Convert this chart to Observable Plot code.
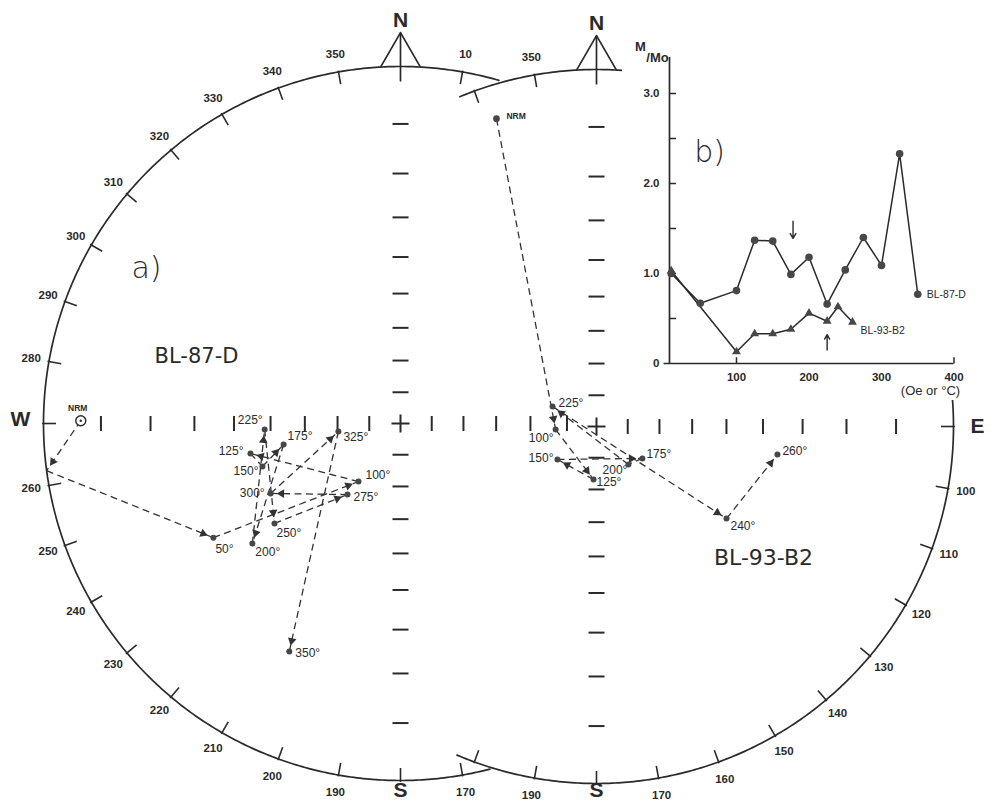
<!DOCTYPE html>
<html><head><meta charset="utf-8">
<script src="https://cdn.jsdelivr.net/npm/d3@7"></script>
<script src="https://cdn.jsdelivr.net/npm/@observablehq/plot@0.6"></script>
<style>
body{margin:0;background:#fff;}
#wrap{position:relative;width:994px;height:806px;overflow:hidden;background:#fff;}
#main{position:absolute;left:0;top:0;width:994px;height:806px;}
#inset{position:absolute;left:622px;top:30px;width:372px;height:370px;}
</style></head>
<body><div id="wrap"><div id="main"></div><div id="inset"></div></div>
<script>
// ================= DATA =================
// tick labels around the two stereonets (azimuth in degrees)
const leftTickLabels = [170,190,200,210,220,230,240,250,260,280,290,300,310,320,330,340,350,10];
const rightTickLabels = [350,100,110,120,130,140,150,160,170,190];
const leftCardinals = ["N","S","W"];
const leftCardinalAz = [0,180,270];
const rightCardinals = ["N","E","S"];
const rightCardinalAz = [0,90,180];

// a) BL-87-D demagnetization path (declination, inclination; negative = upper hemisphere)
const bl87Steps = ["NRM","","50°","100°","125°","150°","175°","200°","225°","250°","275°","300°","325°","350°"];
const bl87Dec = [270.5,262.4,238.6,215.9,258.7,252.7,259.8,231.0,267.5,231.6,216.7,241.7,262.6,206.0];
const bl87Inc = [-6.3,0,26.9,67.3,43.6,45.9,53.2,33.8,48.3,41.5,62.1,45.1,70.1,19.2];

// BL-93-B2 demagnetization path
const bl93Steps = ["NRM","100°","125°","150°","175°","200°","225°","240°","260°"];
const bl93Dec = [342.0,265.8,183.2,229.8,124.8,139.9,294.4,125.3,98.8];
const bl93Inc = [5.6,76.9,73.1,73.7,72.2,74.2,74.6,41.9,35.7];

// b) intensity decay M/Mo vs field (Oe) or temperature (°C)
const demag87 = [10,50,100,125,150,175,200,225,250,275,300,325,350];
const mMo87 = [1.0,0.67,0.81,1.37,1.36,0.99,1.18,0.66,1.04,1.40,1.09,2.33,0.77];
const demag93 = [10,100,125,150,175,200,225,240,260];
const mMo93 = [1.03,0.13,0.33,0.33,0.38,0.56,0.47,0.63,0.46];
const insetXTicks = [100,200,300,400];
const insetYTickValues = [0,1,2,3];
const insetYTickLabels = ["0","1.0","2.0","3.0"];

// ================= STYLE / LAYOUT =================
const ink = "#2a2a2a", dotFill = "#474747";
const font = "Liberation Sans, Arial, sans-serif";
const deg = Math.PI/180;
const W = 994, H = 806, R = 357;
const pxU = px => (px-400)/R, pyV = py => (423-py)/R;
const C = {left:[0,0], right:[pxU(596), pyV(426)]};

// label placement for path labels: [dx px, dy px, anchor]
const place87 = {"NRM":[-3,-12,"middle"],"50°":[2,11,"start"],"100°":[7,-6,"start"],"125°":[-7,-2,"end"],
  "150°":[-4,5,"end"],"175°":[4,-8,"start"],"200°":[3,9,"start"],"225°":[-2,-9,"end"],"250°":[2,10,"start"],
  "275°":[6,3,"start"],"300°":[-6,0,"end"],"325°":[5,6,"start"],"350°":[6,2,"start"]};
const place93 = {"NRM":[10,-2,"start"],"100°":[-2,9,"end"],"125°":[3,3,"start"],"150°":[-4,-1,"end"],
  "175°":[4,-4,"start"],"200°":[-1,6,"end"],"225°":[6,-3,"start"],"240°":[4,8,"start"],"260°":[5,-3,"start"]};

// ================= GEOMETRY HELPERS =================
function polar(c, az, r){ return {u:c[0]+r*Math.sin(az*deg), v:c[1]+r*Math.cos(az*deg)}; }
function dirToUV(c, dec, inc){ const rho = Math.tan((90-Math.abs(inc))/2*deg); return polar(c, dec, rho); }

const arcs = [];
function addArc(name, c, a0, a1){ for(let a=a0; a<=a1+1e-9; a+=0.5) arcs.push({name, ...polar(c,a,1)}); }
addArc("left", C.left, 165.5, 376);
addArc("right", C.right, 337.5, 563);

const circTicks = [];
function addTick(c,a){ const p=polar(c,a,0.965), q=polar(c,a,1.004); circTicks.push({u1:p.u,v1:p.v,u2:q.u,v2:q.v}); }
for(let a=170;a<=370;a+=10) if(a%360!==0) addTick(C.left,a);
for(let a=340;a<=560;a+=10) if(a%360!==0) addTick(C.right,a);

const LR = 375/R;
const tickText = [
  ...leftTickLabels.map(a=>({...polar(C.left,a,LR), t:String(a)})),
  ...rightTickLabels.map(a=>({...polar(C.right,a,LR), t:String(a)}))
];
const cardRadius = {N:403/R, S:366/R, W:380/R, E:381/R};
const cardText = [
  ...leftCardinals.map((t,i)=>({...polar(C.left,leftCardinalAz[i],cardRadius[t]), t})),
  ...rightCardinals.map((t,i)=>({...polar(C.right,rightCardinalAz[i],cardRadius[t]), t}))
].map(d=> d.t==="W" ? {...d, v:d.v+4/R} : d.t==="S" ? {...d, v:pyV(790)} : d);

// north symbols
const nLegs = [], nStems = [];
for(const [k,c] of Object.entries(C)){
  const apex = {u:c[0], v:c[1]+1.095};
  nLegs.push({k:k+"a",...polar(c,-3.2,1.0)}, {k:k+"a",...apex}, {k:k+"a",...polar(c,3.2,1.0)});
  nStems.push({u1:apex.u,v1:apex.v,u2:c[0],v2:c[1]+0.958});
}

// inclination graticule ticks along N-S and E-W diameters (stereographic)
const incLevels = [10,20,30,40,50,60,70,80];
const rhoOf = I => Math.tan((90-I)/2*deg);
const hd = 8/R, vd = 7.5/R, cr = 9/R;
const hDash = [], vDash = [];
for(const c of [C.left, C.right]){
  for(const I of incLevels){ const r=rhoOf(I); hDash.push({u1:c[0]-hd,u2:c[0]+hd,v:c[1]+r},{u1:c[0]-hd,u2:c[0]+hd,v:c[1]-r}); }
  hDash.push({u1:c[0]-cr,u2:c[0]+cr,v:c[1]});
  vDash.push({u:c[0],v1:c[1]-cr,v2:c[1]+cr});
}
for(const I of incLevels){ const r=rhoOf(I);
  vDash.push({u:C.left[0]-r, v1:C.left[1]-vd, v2:C.left[1]+vd});
  if(I>=40) vDash.push({u:C.left[0]+r, v1:C.left[1]-vd, v2:C.left[1]+vd});
  vDash.push({u:C.right[0]+r, v1:C.right[1]-vd, v2:C.right[1]+vd});
}

// demag paths
function buildPath(c, steps, decs, incs){ return steps.map((s,i)=>({step:s, ...dirToUV(c,decs[i],incs[i]), upper:incs[i]<0, edge:incs[i]===0})); }
const p87 = buildPath(C.left, bl87Steps, bl87Dec, bl87Inc);
const p93 = buildPath(C.right, bl93Steps, bl93Dec, bl93Inc);
const AOFF = 11/R;
function segs(path){ const out=[]; for(let i=1;i<path.length;i++){ const a=path[i-1], b=path[i];
  const du=b.u-a.u, dv=b.v-a.v, L=Math.hypot(du,dv);
  out.push({u1:a.u,v1:a.v,u2:b.u,v2:b.v, au:b.u-du/L*AOFF, av:b.v-dv/L*AOFF, rot:Math.atan2(du,dv)/deg, L:L*R}); } return out; }
const segAll = [...segs(p87), ...segs(p93)];
function labels(path, place){ return path.filter(d=>d.step && place[d.step]).map(d=>{ const [dx,dy,an]=place[d.step]; return {t:d.step, u:d.u+dx/R, v:d.v-dy/R, an, small:d.step==="NRM"}; }); }
const lab = [...labels(p87,place87), ...labels(p93,place93)];

const dotsFilled = [...p87.filter(d=>!d.upper && !d.edge), ...p93];
const dotsOpen = p87.filter(d=>d.upper);

const ann = [
  {t:"a)", u:pxU(146), v:pyV(268), s:30, w:300},
  {t:"BL-87-D", u:pxU(196), v:pyV(356), s:21, w:500},
  {t:"BL-93-B2", u:pxU(763), v:pyV(557), s:22, w:500}
];

const main = Plot.plot({
  width:W, height:H, margin:0,
  x:{domain:[pxU(0),pxU(W)], range:[0,W], axis:null},
  y:{domain:[pyV(H),pyV(0)], range:[H,0], axis:null},
  style:{background:"white", overflow:"visible"},
  marks:[
    Plot.line(arcs,{x:"u",y:"v",z:"name",stroke:ink,strokeWidth:1.7}),
    Plot.link(circTicks,{x1:"u1",y1:"v1",x2:"u2",y2:"v2",stroke:ink,strokeWidth:1.6}),
    Plot.line(nLegs,{x:"u",y:"v",z:"k",stroke:ink,strokeWidth:1.7}),
    Plot.link(nStems,{x1:"u1",y1:"v1",x2:"u2",y2:"v2",stroke:ink,strokeWidth:1.7}),
    Plot.link(hDash,{x1:"u1",x2:"u2",y1:"v",y2:"v",stroke:ink,strokeWidth:2}),
    Plot.link(vDash,{x1:"u",x2:"u",y1:"v1",y2:"v2",stroke:ink,strokeWidth:2}),
    Plot.text(tickText,{x:"u",y:"v",text:"t",fontSize:11.5,fontWeight:600,fontFamily:font,fill:ink}),
    Plot.text(cardText,{x:"u",y:"v",text:"t",fontSize:21,fontWeight:700,fontFamily:font,fill:ink}),
    Plot.link(segAll,{x1:"u1",y1:"v1",x2:"u2",y2:"v2",stroke:"#333",strokeWidth:1.3,strokeDasharray:"7,4.5"}),
    Plot.dot(segAll.filter(d=>d.L>22),{x:"au",y:"av",rotate:"rot",symbol:"triangle",r:3.2,fill:"#333",stroke:"none"}),
    Plot.dot(dotsFilled,{x:"u",y:"v",r:d=>d.step==="NRM"?5:4,fill:dotFill,stroke:"none"}),
    Plot.dot(dotsOpen,{x:"u",y:"v",r:5,fill:"white",stroke:ink,strokeWidth:1.4}),
    Plot.dot(dotsOpen,{x:"u",y:"v",r:1.2,fill:ink}),
    ...["start","middle","end"].flatMap(an=>[
      Plot.text(lab.filter(d=>d.an===an && !d.small),{x:"u",y:"v",text:"t",textAnchor:an,fontSize:12,fontFamily:font,fill:ink}),
      Plot.text(lab.filter(d=>d.an===an && d.small),{x:"u",y:"v",text:"t",textAnchor:an,fontSize:8.5,fontWeight:700,fontFamily:font,fill:ink})
    ]),
    ...ann.map(a=>Plot.text([a],{x:"u",y:"v",text:"t",fontSize:a.s,fontWeight:a.w,fontFamily:"DejaVu Sans, sans-serif",fill:ink}))
  ]
});
document.getElementById("main").appendChild(main);

// ================= INSET b) =================
const IX0=622, IY0=30, IW=372, IH=370;
const ix = px => (px-663.5)/0.725;   // pixel -> Oe/°C
const iy = py => (363-py)/90;        // pixel -> M/Mo
const yAxisX = ix(669);
const r87 = demag87.map((x,i)=>({x, y:mMo87[i]}));
const r93 = demag93.map((x,i)=>({x, y:mMo93[i]}));
const minorY = [0.5,1,1.5,2,2.5,3];
const inset = Plot.plot({
  width:IW, height:IH, margin:0,
  x:{domain:[0,400], range:[663.5-IX0, 953.5-IX0], axis:null},
  y:{domain:[0,3.4], range:[363-IY0, 57-IY0], axis:null},
  style:{background:"white", overflow:"visible"},
  marks:[
    Plot.ruleY([0],{x1:0,x2:400,stroke:ink,strokeWidth:1.7}),
    Plot.ruleX([yAxisX],{y1:0,y2:3.4,stroke:ink,strokeWidth:1.7}),
    Plot.link(minorY,{x1:yAxisX,x2:yAxisX+9,y1:d=>d,y2:d=>d,stroke:ink,strokeWidth:1.5}),
    Plot.link([100,400],{x1:d=>d,x2:d=>d,y1:0,y2:0.07,stroke:ink,strokeWidth:1.5}),
    Plot.text(insetYTickValues,{x:yAxisX,y:d=>d,text:(d,i)=>insetYTickLabels[i],dx:-10,textAnchor:"end",fontSize:11.5,fontWeight:600,fontFamily:font,fill:ink}),
    Plot.text(insetXTicks,{x:d=>d,y:0,text:d=>String(d),dy:14,fontSize:11.5,fontWeight:600,fontFamily:font,fill:ink}),
    Plot.text(["(Oe or °C)"],{x:ix(930),y:0,dy:27,fontSize:13,fontFamily:font,fill:ink}),
    Plot.line(r87,{x:"x",y:"y",stroke:ink,strokeWidth:1.5}),
    Plot.line(r93,{x:"x",y:"y",stroke:ink,strokeWidth:1.5}),
    Plot.dot(r87,{x:"x",y:"y",r:3.8,fill:dotFill}),
    Plot.dot(r93,{x:"x",y:"y",r:3.3,symbol:"triangle",fill:dotFill}),
    Plot.arrow([{x:178,y1:1.58,y2:1.39}],{x1:"x",x2:"x",y1:"y1",y2:"y2",stroke:ink,strokeWidth:1.4,headLength:6}),
    Plot.arrow([{x:225,y1:0.15,y2:0.32}],{x1:"x",x2:"x",y1:"y1",y2:"y2",stroke:ink,strokeWidth:1.4,headLength:6}),
    Plot.text([r87[r87.length-1]],{x:"x",y:"y",text:()=>"BL-87-D",dx:9,textAnchor:"start",fontSize:10.5,fontFamily:font,fill:ink}),
    Plot.text([r93[r93.length-1]],{x:"x",y:"y",text:()=>"BL-93-B2",dx:8,dy:9,textAnchor:"start",fontSize:10.5,fontFamily:font,fill:ink}),
    Plot.text(["b)"],{x:ix(709),y:iy(152),fontSize:30,fontWeight:300,fontFamily:"DejaVu Sans, sans-serif",fill:ink}),
    Plot.text(["M"],{x:ix(640),y:iy(46),fontSize:13,fontWeight:600,fontFamily:font,fill:ink}),
    Plot.text(["/Mo"],{x:ix(657),y:iy(57),fontSize:13,fontWeight:600,fontFamily:font,fill:ink})
  ]
});
document.getElementById("inset").appendChild(inset);
</script>
</body></html>
